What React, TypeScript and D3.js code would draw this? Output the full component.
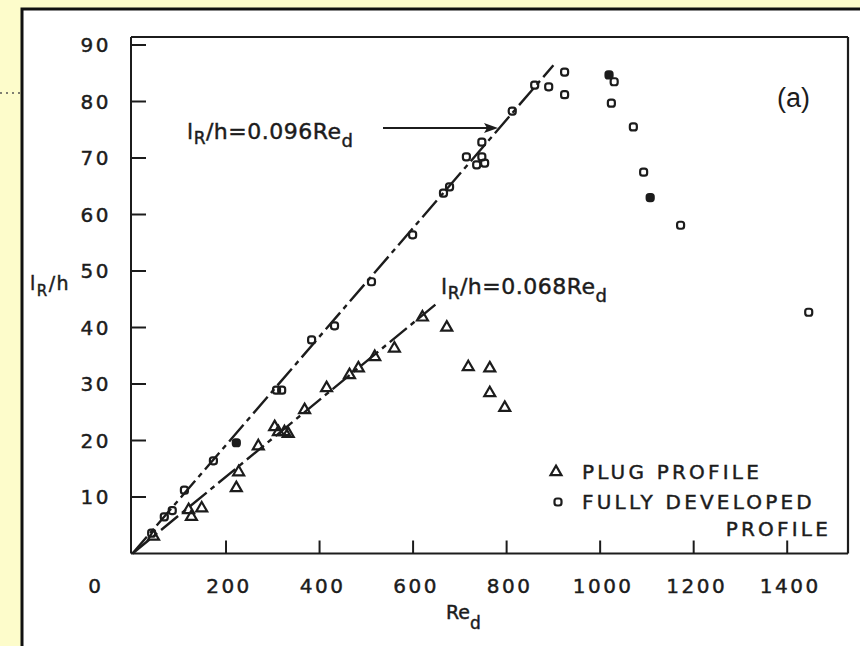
import React from "react";
import * as d3 from "d3";

// ---- data ----
const xTicks = [200, 400, 600, 800, 1000, 1200, 1400];
const yTicks = [10, 20, 30, 40, 50, 60, 70, 80, 90];

// Plug profile (triangles): [Re_d, l_R/h]
const plugRe = [45, 120, 126, 148, 222, 227, 269, 304, 312, 325, 333, 368, 415, 464, 483, 518, 560, 620, 672, 718, 764, 764, 796];
const plugL = [3.0, 7.7, 6.5, 8.0, 11.6, 14.4, 19.0, 22.4, 21.5, 21.5, 21.2, 25.4, 29.3, 31.6, 32.8, 34.8, 36.3, 41.8, 40.0, 33.0, 32.8, 28.4, 25.8];

// Fully developed profile (small squares)
const fullRe = [41, 68, 85, 111, 173, 222, 308, 319, 383, 432, 511, 599, 665, 678, 714, 736, 747, 753, 747, 812, 860, 890, 924, 924, 1019, 1030, 1024, 1071, 1093, 1107, 1172, 1446];
const fullL = [3.6, 6.5, 7.6, 11.2, 16.4, 19.6, 28.9, 28.9, 37.8, 40.3, 48.1, 56.4, 63.8, 64.9, 70.2, 68.8, 70.2, 69.1, 72.8, 78.3, 82.9, 82.6, 85.2, 81.2, 84.7, 83.5, 79.7, 75.5, 67.5, 63.0, 58.1, 42.7];
const fullFilled = [false, false, false, false, false, true, false, false, false, false, false, false, false, false, false, false, false, false, false, false, false, false, false, false, true, false, false, false, false, true, false, false];

// fitted lines
const fitSlopes = [0.096, 0.068];
const fitEnds = [900, 650];

const INK = "#1c1c1c";
const FONT = "'DejaVu Sans', sans-serif";

export default function App() {
  const W = 860, H = 646;
  const x = d3.scaleLinear().domain([0, 1530]).range([132.5, 848]);
  const y = d3.scaleLinear().domain([0, 90]).range([553.5, 45]);
  const left = x(0) - 1.5, right = x(1530), top = 37, bottom = y(0);

  const lineGen = d3.line<[number, number]>().x(d => x(d[0])).y(d => y(d[1]));
  const tri = d3.symbol().type(d3.symbolTriangle).size(52)();
  const txt = { fill: INK, stroke: INK, strokeWidth: 0.45 };

  return (
    <svg width={W} height={H} style={{ position: "fixed", left: 0, top: 0 }} fontFamily={FONT}>
      <rect x={0} y={0} width={W} height={H} fill="#fdfccb" />
      <line x1={0} x2={21} y1={93} y2={93} stroke="#555" strokeWidth={1.5} strokeDasharray="2 4" />
      <rect x={22} y={9} width={W} height={H} fill="#ffffff" stroke="#111" strokeWidth={3} />

      {/* plot frame */}
      <g stroke={INK} fill="none">
        <line x1={left} x2={left} y1={top} y2={bottom} strokeWidth={2} />
        <line x1={left} x2={right} y1={bottom} y2={bottom} strokeWidth={2} />
        <line x1={left} x2={right} y1={top} y2={top} strokeWidth={1.8} />
        <line x1={right} x2={right} y1={top} y2={bottom} strokeWidth={2.2} />
      </g>

      {/* y ticks */}
      {yTicks.map(t => (
        <g key={"y" + t}>
          <line x1={left} x2={left + 15} y1={y(t)} y2={y(t)} stroke={INK} strokeWidth={2} />
          <text x={111} y={y(t)} textAnchor="end" dominantBaseline="central" fontSize={20} letterSpacing={2.5} {...txt}>{t}</text>
        </g>
      ))}
      {/* x ticks */}
      {xTicks.map(t => (
        <g key={"x" + t}>
          <line x1={x(t)} x2={x(t)} y1={bottom} y2={bottom - 13} stroke={INK} strokeWidth={2} />
          <text x={x(t) + 3} y={586} textAnchor="middle" dominantBaseline="central" fontSize={20} letterSpacing={2.5} {...txt}>{t}</text>
        </g>
      ))}
      <text x={x(0) - 38} y={586} textAnchor="middle" dominantBaseline="central" fontSize={20} {...txt}>0</text>

      {/* axis titles */}
      <text x={30} y={290} fontSize={19} letterSpacing={1.5} {...txt}>
        l<tspan dy={6} fontSize={15}>R</tspan><tspan dy={-6}>/h</tspan>
      </text>
      <text x={446} y={619} fontSize={19} {...txt}>
        Re<tspan dy={10} fontSize={17}>d</tspan>
      </text>

      {/* fitted lines */}
      {fitSlopes.map((s, i) => (
        <path key={"fit" + i} d={lineGen([[0, 0], [fitEnds[i], s * fitEnds[i]]]) || ""} stroke={INK} strokeWidth={2.4} fill="none" strokeDasharray="22 5 5 5" />
      ))}

      {/* plug triangles */}
      {plugRe.map((r, i) => (
        <path key={"p" + i} d={tri || ""} transform={`translate(${x(r)},${y(plugL[i])})`} fill="none" stroke={INK} strokeWidth={2.2} />
      ))}
      {/* fully developed squares */}
      {fullRe.map((r, i) => (
        <rect key={"f" + i} x={x(r) - 3.5} y={y(fullL[i]) - 3.5} width={7} height={7} rx={2.5} fill={fullFilled[i] ? INK : "none"} stroke={INK} strokeWidth={2.2} />
      ))}

      {/* annotations */}
      <text x={187} y={131} fontSize={22} dominantBaseline="central" letterSpacing={0.5} {...txt}>
        l<tspan dy={7} fontSize={17}>R</tspan><tspan dy={-7}>/h=0.096Re</tspan><tspan dy={9} fontSize={18}>d</tspan>
      </text>
      <line x1={383} x2={488} y1={128} y2={128} stroke={INK} strokeWidth={2} />
      <path d="M498,128 L484,123 L487,128 L484,133 Z" fill={INK} />

      <text x={441} y={286} fontSize={22} dominantBaseline="central" letterSpacing={0.5} {...txt}>
        l<tspan dy={7} fontSize={17}>R</tspan><tspan dy={-7}>/h=0.068Re</tspan><tspan dy={9} fontSize={18}>d</tspan>
      </text>

      <text x={777} y={98} fontSize={27} dominantBaseline="central" fontFamily="'Liberation Sans', Arial, sans-serif" fill={INK}>(a)</text>

      {/* legend */}
      <path d={tri || ""} transform="translate(556,472)" fill="none" stroke={INK} strokeWidth={2.2} />
      <text x={582} y={472} fontSize={20} dominantBaseline="central" letterSpacing={3.2} {...txt}>PLUG  PROFILE</text>
      <rect x={554.5} y={498.5} width={7} height={7} rx={2.5} fill="none" stroke={INK} strokeWidth={2.2} />
      <text x={582} y={502} fontSize={20} dominantBaseline="central" letterSpacing={3.2} {...txt}>FULLY DEVELOPED</text>
      <text x={831} y={529} fontSize={20} dominantBaseline="central" letterSpacing={3.2} textAnchor="end" {...txt}>PROFILE</text>
    </svg>
  );
}
